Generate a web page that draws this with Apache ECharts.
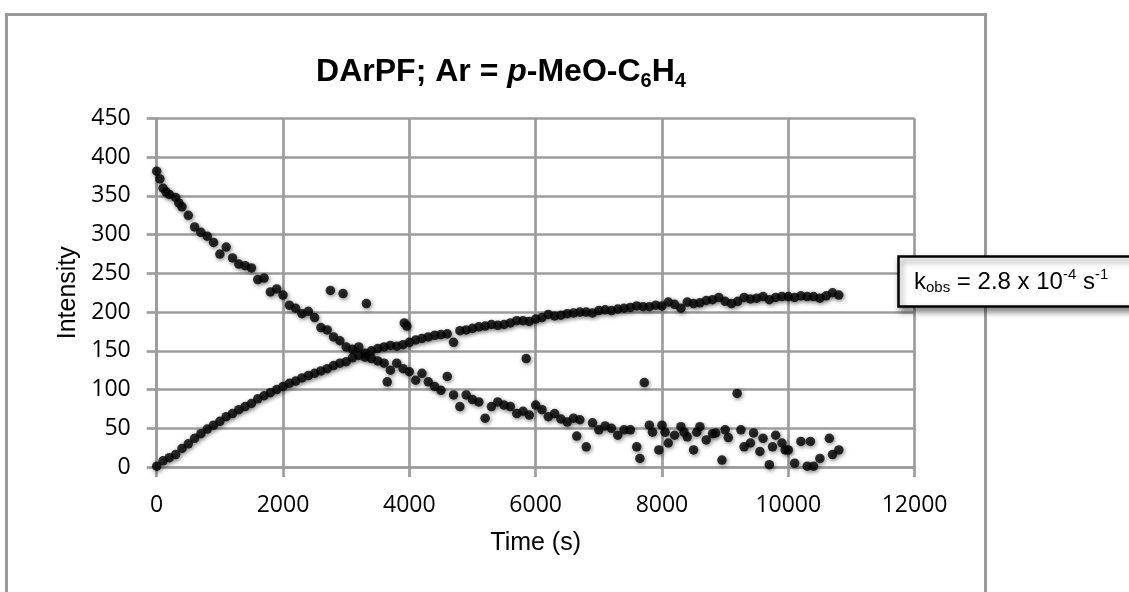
<!DOCTYPE html>
<html>
<head>
<meta charset="utf-8">
<script src="https://cdn.jsdelivr.net/npm/echarts@6/dist/echarts.min.js"></script>
<style>
  html, body { margin: 0; padding: 0; background: #fff; }
  #chart { width: 1129px; height: 592px; }
</style>
</head>
<body>
<div id="chart"></div>
<script>
// Product growth: sample times (s) and intensities
const growthTime = [
  0, 100, 200, 300, 400, 500, 600, 700, 800, 900,
  1000, 1100, 1200, 1300, 1400, 1500, 1600, 1700, 1800, 1900,
  2000, 2100, 2200, 2300, 2400, 2500, 2600, 2700, 2800, 2900,
  3000, 3100, 3200, 3300, 3400, 3500, 3600, 3700, 3800, 3900,
  4000, 4100, 4200, 4300, 4400, 4500, 4600, 4700, 4800, 4900,
  5000, 5100, 5200, 5300, 5400, 5500, 5600, 5700, 5800, 5900,
  6000, 6100, 6200, 6300, 6400, 6500, 6600, 6700, 6800, 6900,
  7000, 7100, 7200, 7300, 7400, 7500, 7600, 7700, 7800, 7900,
  8000, 8100, 8200, 8300, 8400, 8500, 8600, 8700, 8800, 8900,
  9000, 9100, 9200, 9300, 9400, 9500, 9600, 9700, 9800, 9900,
  10000, 10100, 10200, 10300, 10400, 10500, 10600, 10700, 10800
];
const growthValue = [
  1, 8, 12, 16, 24, 30, 37, 43, 49, 54,
  59, 65, 69, 74, 78, 82, 88, 92, 96, 100,
  104, 108, 111, 115, 118, 121, 124, 127, 131, 134,
  136, 141, 144, 147, 150, 153, 155, 157, 156, 158,
  161, 164, 166, 168, 170, 171, 172, 161, 176, 177,
  179, 181, 182, 184, 183, 184, 186, 189, 189, 188,
  191, 193, 197, 195, 196, 198, 199, 200, 200, 199,
  202, 203, 202, 204, 205, 206, 208, 207, 207, 209,
  208, 213, 210, 205, 213, 211, 212, 215, 216, 219,
  214, 211, 214, 219, 217, 218, 220, 216, 219, 220,
  220, 219, 221, 220, 220, 218, 221, 225, 222
];

// Reactant decay: sample times (s) and intensities
const decayTime = [
  0, 50, 100, 150, 200, 300, 350, 400, 500, 600,
  700, 800, 900, 1000, 1100, 1200, 1300, 1400, 1500, 1600,
  1700, 1800, 1900, 2000, 2100, 2200, 2300, 2400, 2500, 2600,
  2700, 2750, 2800, 2900, 2950, 3000, 3100, 3200, 3300, 3320,
  3400, 3500, 3600, 3650, 3700, 3800, 3900, 3920, 3960, 4000,
  4100, 4200, 4300, 4400, 4500, 4600, 4700, 4800, 4900, 5000,
  5100, 5200, 5300, 5400, 5500, 5600, 5700, 5800, 5850, 5900,
  6000, 6100, 6200, 6300, 6400, 6500, 6600, 6650, 6700, 6800,
  6900, 7000, 7100, 7200, 7300, 7400, 7500, 7600, 7650, 7720,
  7800, 7850, 7950, 8000, 8050, 8100, 8200, 8300, 8350, 8400,
  8500, 8550, 8600, 8700, 8800, 8850, 8950, 9000, 9050, 9190,
  9250, 9300, 9400, 9450, 9550, 9600, 9700, 9750, 9800, 9900,
  9950, 10000, 10100, 10200, 10300, 10350, 10400, 10500, 10650, 10700,
  10800
];
const decayValue = [
  382, 372, 360, 355, 352, 348, 341, 336, 325, 310,
  303, 298, 290, 275, 284, 270, 262, 260, 257, 242,
  244, 226, 230, 222, 209, 205, 198, 201, 193, 180,
  177, 228, 168, 163, 224, 155, 152, 155, 142, 211,
  140, 137, 134, 110, 125, 134, 127, 186, 182, 123,
  112, 121, 110, 104, 99, 117, 93, 78, 93, 87,
  84, 63, 78, 84, 80, 78, 69, 72, 140, 67,
  80, 74, 65, 69, 62, 58, 63, 40, 61, 26,
  57, 48, 53, 50, 41, 48, 48, 26, 11, 109,
  54, 45, 22, 54, 45, 31, 41, 52, 45, 39,
  22, 45, 52, 35, 43, 44, 9, 48, 38, 95,
  48, 26, 31, 44, 20, 37, 3, 26, 41, 31,
  22, 22, 5, 33, 1, 33, 1, 11, 37, 16,
  22
];

const xTicks = [0, 2000, 4000, 6000, 8000, 10000, 12000];
const yTicks = [0, 50, 100, 150, 200, 250, 300, 350, 400, 450];

const gridGray = '#9c9c9c';

function pairs(xs, ys) {
  return xs.map(function (x, i) { return [x, ys[i]]; });
}

const markerStyle = {
  color: '#000',
  shadowBlur: 4,
  shadowColor: 'rgba(0,0,0,0.6)',
  shadowOffsetX: 1,
  shadowOffsetY: 1.5
};

const plainNumber = function (v) { return String(v); };

const chart = echarts.init(document.getElementById('chart'), null, { renderer: 'canvas' });

chart.setOption({
  backgroundColor: '#fff',
  animation: false,
  title: [
    {
      text: '{n|DArPF; Ar = }{i|p}{n|-MeO-C}{s|6}{n|H}{s|4}',
      left: 496,
      top: 48,
      textAlign: 'center',
      textStyle: {
        rich: {
          n: { fontFamily: 'Liberation Sans', fontWeight: 'bold', fontSize: 32, color: '#000', lineHeight: 38 },
          i: { fontFamily: 'Liberation Sans', fontWeight: 'bold', fontStyle: 'italic', fontSize: 32, color: '#000', lineHeight: 38 },
          s: { fontFamily: 'Liberation Sans', fontWeight: 'bold', fontSize: 20, color: '#000', lineHeight: 23, padding: [19, 0, 0, 0] }
        }
      }
    },
    {
      text: '{n|k}{s|obs}{n| = 2.8 x 10}{p|-4}{n| s}{p|-1}',
      left: 898,
      top: 256,
      padding: [11, 40, 10, 16],
      backgroundColor: '#fff',
      borderColor: '#000',
      borderWidth: 2.5,
      shadowBlur: 6,
      shadowColor: 'rgba(0,0,0,0.45)',
      shadowOffsetX: 2,
      shadowOffsetY: 4,
      textStyle: {
        fontWeight: 'normal',
        rich: {
          n: { fontFamily: 'Liberation Sans', fontWeight: 'normal', fontSize: 24, color: '#000', lineHeight: 30 },
          s: { fontFamily: 'Liberation Sans', fontWeight: 'normal', fontSize: 15, color: '#000', lineHeight: 18, padding: [12, 0, 0, 0] },
          p: { fontFamily: 'Liberation Sans', fontWeight: 'normal', fontSize: 15, color: '#000', lineHeight: 18, padding: [0, 0, 14, 0] }
        }
      }
    }
  ],
  graphic: [
    {
      type: 'rect',
      z: -1,
      silent: true,
      shape: { x: 6.5, y: 14.5, width: 979, height: 620 },
      style: { fill: 'none', stroke: '#9a9a9a', lineWidth: 3 }
    }
  ],
  grid: {
    left: 156.7,
    right: 1129 - 914.6,
    top: 118.5,
    bottom: 592 - 467,
    containLabel: false
  },
  xAxis: {
    type: 'value',
    min: xTicks[0],
    max: xTicks[xTicks.length - 1],
    interval: xTicks[1] - xTicks[0],
    name: 'Time (s)',
    nameLocation: 'middle',
    nameGap: 64,
    nameTextStyle: { fontFamily: 'Liberation Sans', fontSize: 25, color: '#000' },
    axisLine: { show: true, lineStyle: { color: gridGray, width: 2.7 } },
    axisTick: { show: true, length: 10, lineStyle: { color: gridGray, width: 2.7 } },
    axisLabel: { margin: 27, fontFamily: 'Open Sans', fontSize: 23, color: '#000', formatter: plainNumber },
    splitLine: { show: true, lineStyle: { color: gridGray, width: 2.7 } }
  },
  yAxis: {
    type: 'value',
    min: yTicks[0],
    max: yTicks[yTicks.length - 1],
    interval: yTicks[1] - yTicks[0],
    name: 'Intensity',
    nameLocation: 'middle',
    nameGap: 76,
    nameTextStyle: { fontFamily: 'Liberation Sans', fontSize: 25, color: '#000' },
    axisLine: { show: true, lineStyle: { color: gridGray, width: 2.7 } },
    axisTick: { show: true, length: 10, lineStyle: { color: gridGray, width: 2.7 } },
    axisLabel: { margin: 26, fontFamily: 'Open Sans', fontSize: 23, color: '#000', formatter: plainNumber },
    splitLine: { show: true, lineStyle: { color: gridGray, width: 2.7 } }
  },
  series: [
    {
      name: 'Decay',
      type: 'scatter',
      symbol: 'circle',
      symbolSize: 9.5,
      itemStyle: markerStyle,
      data: pairs(decayTime, decayValue)
    },
    {
      name: 'Growth',
      type: 'scatter',
      symbol: 'circle',
      symbolSize: 9.5,
      itemStyle: markerStyle,
      data: pairs(growthTime, growthValue)
    }
  ]
});
</script>
</body>
</html>
